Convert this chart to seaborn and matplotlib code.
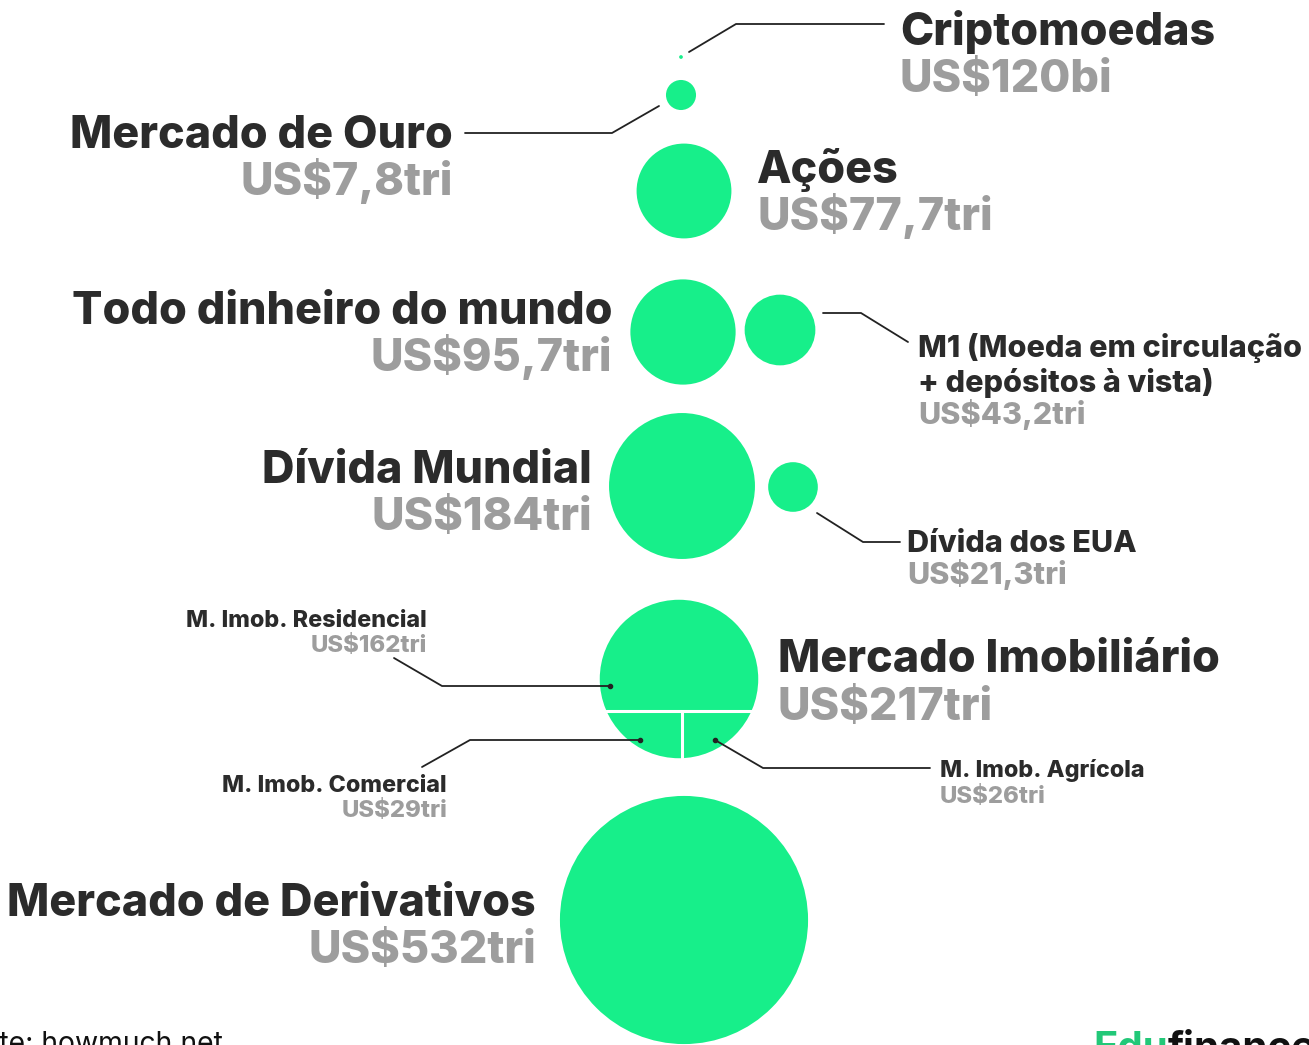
import numpy as np
import pandas as pd
import matplotlib
matplotlib.use("Agg")
import matplotlib.pyplot as plt
import seaborn as sns

# ---------------- data ----------------
names = ["Criptomoedas", "Mercado de Ouro", "Ações", "Todo dinheiro do mundo",
         "M1 (Moeda em circulação\n+ depósitos à vista)", "Dívida Mundial",
         "Dívida dos EUA", "Mercado Imobiliário", "Mercado de Derivativos"]
values = [0.12, 7.8, 77.7, 95.7, 43.2, 184, 21.3, 217, 532]   # US$ trillions
value_labels = ["US$120bi", "US$7,8tri", "US$77,7tri", "US$95,7tri", "US$43,2tri",
                "US$184tri", "US$21,3tri", "US$217tri", "US$532tri"]

sub_names = ["M. Imob. Residencial", "M. Imob. Comercial", "M. Imob. Agrícola"]
sub_values = [162, 29, 26]
sub_labels = ["US$162tri", "US$29tri", "US$26tri"]

source_text = "Fonte: howmuch.net"

# ---------------- layout ----------------
W, H = 1309, 1045
cx = [681, 681, 684, 683, 780, 682, 793, 679, 684]
cy = [57, 95, 191, 332, 330, 486, 487, 679, 920]
AREA_PER_UNIT = 60.0   # marker area (pt^2) per US$ trillion

GREEN = "#17EF8A"
DARK = "#2b2b2b"
GRAY = "#9d9d9d"
LINE = "#222222"

sns.set_theme(style="white")
plt.rcParams["font.family"] = ["Inter", "DejaVu Sans"]

fig = plt.figure(figsize=(W / 100, H / 100), dpi=100)
ax = fig.add_axes([0, 0, 1, 1])

df = pd.DataFrame({"x": cx, "y": cy, "v": values})
sns.scatterplot(data=df, x="x", y="y", size="v",
                sizes=(0, AREA_PER_UNIT * max(values)), size_norm=(0, max(values)),
                color=GREEN, linewidth=0, legend=False, ax=ax, zorder=2)

ax.set_xlim(0, W)
ax.set_ylim(H, 0)
ax.axis("off")

# --- split of the real-estate circle into its three parts (areas from data) ---
ire = 7
r_re = np.sqrt(AREA_PER_UNIT * values[ire]) / 2 / 0.72   # pixels
f_low = (sub_values[1] + sub_values[2]) / values[ire]
us = np.linspace(0, 0.999, 20000)
seg = (np.arccos(us) - us * np.sqrt(1 - us ** 2)) / np.pi
u = us[np.argmin(np.abs(seg - f_low))]
d = u * r_re
half = np.sqrt(r_re ** 2 - d ** 2)
xs = np.linspace(-half, half, 4000)
heights = np.sqrt(np.maximum(r_re ** 2 - xs ** 2, 0)) - d
cum = np.cumsum(heights)
cum /= cum[-1]
xv = xs[np.argmin(np.abs(cum - sub_values[1] / (sub_values[1] + sub_values[2])))]
ax.plot([cx[ire] - half, cx[ire] + half], [cy[ire] + d, cy[ire] + d], color="white", lw=2.2, zorder=3)
ax.plot([cx[ire] + xv, cx[ire] + xv], [cy[ire] + d, cy[ire] + r_re + 2], color="white", lw=2.2, zorder=3)

# ---------------- labels ----------------
BIG, MID, SMALL, SMALL_V = 32.3, 22, 16.8, 17.2
WEIGHT = "heavy"

def label(x, y1, y2, name, val, ha, size, vsize=None):
    ax.text(x, y1, name, ha=ha, va="baseline", fontsize=size, fontweight=WEIGHT,
            color=DARK)
    ax.text(x, y2, val, ha=ha, va="baseline", fontsize=vsize or size,
            fontweight=WEIGHT, color=GRAY)

label(900, 45, 92, names[0], value_labels[0], "left", BIG)
label(453, 148, 195, names[1], value_labels[1], "right", BIG)
label(757, 183, 230, names[2], value_labels[2], "left", BIG)
label(612, 324, 371, names[3], value_labels[3], "right", BIG)
m1_lines = names[4].split("\n")
ax.text(918, 357, m1_lines[0], ha="left", va="baseline", fontsize=MID,
        fontweight=WEIGHT, color=DARK)
ax.text(918, 392, m1_lines[1], ha="left", va="baseline", fontsize=MID,
        fontweight=WEIGHT, color=DARK)
ax.text(918, 424, value_labels[4], ha="left", va="baseline", fontsize=MID,
        fontweight=WEIGHT, color=GRAY)
label(592, 483, 530, names[5], value_labels[5], "right", BIG)
label(907, 552, 584, names[6], value_labels[6], "left", MID)
label(778, 672, 720, names[7], value_labels[7], "left", BIG)
label(536, 916, 963, names[8], value_labels[8], "right", BIG)

label(427, 627, 652, sub_names[0], sub_labels[0], "right", SMALL, SMALL_V)
label(447, 792, 817, sub_names[1], sub_labels[1], "right", SMALL, SMALL_V)
label(940, 777, 803, sub_names[2], sub_labels[2], "left", SMALL, SMALL_V)

# ---------------- leader lines ----------------
leaders = [
    [(689, 52), (736, 24), (884, 24)],
    [(465, 133), (612, 133), (659, 106)],
    [(823, 313), (861, 313), (908, 342)],
    [(817, 513), (863, 542), (900, 542)],
    [(394, 658), (442, 686), (610, 686)],
    [(422, 767), (470, 740), (640, 740)],
    [(715, 740), (763, 768), (930, 768)],
]
for pts in leaders:
    xs_, ys_ = zip(*pts)
    ax.plot(xs_, ys_, color=LINE, lw=1.3, zorder=4, solid_capstyle="round")
for px, py in [(610, 686), (640, 740), (715, 740)]:
    ax.plot(px, py, "o", color=LINE, ms=3, zorder=5)

# ---------------- footer ----------------
ax.text(-51, 1052, source_text, ha="left", va="baseline", fontsize=20.4, color="#111111")
t1 = ax.text(1093, 1060, "Edu", ha="left", va="baseline", fontsize=29,
             fontweight="bold", color="#22c878")
ax.annotate("finance", xy=(1, 0), xycoords=t1, ha="left", va="bottom", fontsize=29,
            fontweight="bold", color="#111111")

fig.savefig("out.png", dpi=100, facecolor="white")
